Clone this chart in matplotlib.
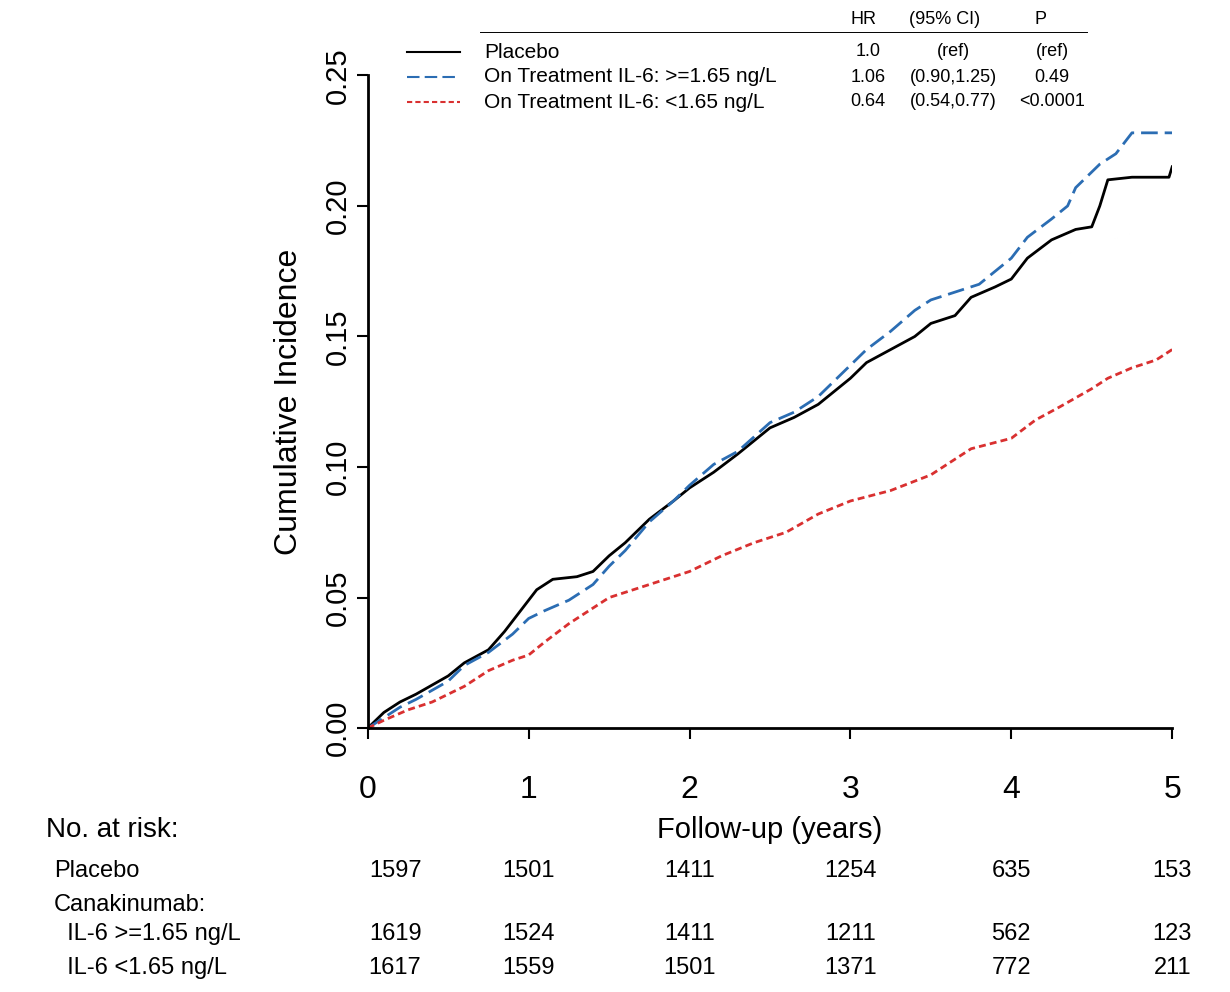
import matplotlib
matplotlib.use("Agg")
import matplotlib.pyplot as plt
import matplotlib.transforms as mtransforms

# Cumulative incidence curves
t_placebo = [0, 0.1, 0.2, 0.3, 0.5, 0.6, 0.75, 0.85, 0.95, 1.05, 1.15, 1.3, 1.4, 1.5, 1.6, 1.75, 1.9, 2.0, 2.15, 2.3, 2.5, 2.65, 2.8, 3.0, 3.1, 3.25, 3.4, 3.5, 3.65, 3.75, 3.9, 4.0, 4.1, 4.25, 4.4, 4.5, 4.55, 4.6, 4.75, 4.98, 5.0]
y_placebo = [0, 0.006, 0.010, 0.013, 0.020, 0.025, 0.030, 0.037, 0.045, 0.053, 0.057, 0.058, 0.060, 0.066, 0.071, 0.080, 0.087, 0.092, 0.098, 0.105, 0.115, 0.119, 0.124, 0.134, 0.140, 0.145, 0.150, 0.155, 0.158, 0.165, 0.169, 0.172, 0.180, 0.187, 0.191, 0.192, 0.200, 0.210, 0.211, 0.211, 0.215]
t_high = [0, 0.1, 0.2, 0.3, 0.5, 0.6, 0.75, 0.9, 1.0, 1.1, 1.25, 1.4, 1.5, 1.6, 1.75, 1.9, 2.0, 2.15, 2.3, 2.5, 2.65, 2.8, 3.0, 3.1, 3.25, 3.4, 3.5, 3.65, 3.8, 3.9, 4.0, 4.1, 4.25, 4.35, 4.4, 4.55, 4.65, 4.75, 5.0]
y_high = [0, 0.004, 0.008, 0.011, 0.018, 0.024, 0.029, 0.036, 0.042, 0.045, 0.049, 0.055, 0.062, 0.068, 0.079, 0.087, 0.093, 0.101, 0.106, 0.117, 0.121, 0.127, 0.139, 0.145, 0.152, 0.160, 0.164, 0.167, 0.170, 0.175, 0.180, 0.188, 0.195, 0.200, 0.207, 0.216, 0.220, 0.228, 0.228]
t_low = [0, 0.1, 0.25, 0.4, 0.6, 0.75, 0.9, 1.0, 1.1, 1.25, 1.4, 1.5, 1.75, 2.0, 2.2, 2.4, 2.6, 2.8, 3.0, 3.25, 3.5, 3.6, 3.75, 4.0, 4.15, 4.3, 4.5, 4.6, 4.75, 4.9, 5.0]
y_low = [0, 0.003, 0.007, 0.010, 0.016, 0.022, 0.026, 0.028, 0.033, 0.040, 0.046, 0.050, 0.055, 0.060, 0.066, 0.071, 0.075, 0.082, 0.087, 0.091, 0.097, 0.101, 0.107, 0.111, 0.118, 0.123, 0.130, 0.134, 0.138, 0.141, 0.145]

# Legend table
labels = ["Placebo", "On Treatment IL-6: >=1.65 ng/L", "On Treatment IL-6: <1.65 ng/L"]
hr = ["1.0", "1.06", "0.64"]
ci = ["(ref)", "(0.90,1.25)", "(0.54,0.77)"]
pval = ["(ref)", "0.49", "<0.0001"]

# Numbers at risk
risk_times = [0, 1, 2, 3, 4, 5]
risk_placebo = [1597, 1501, 1411, 1254, 635, 153]
risk_high = [1619, 1524, 1411, 1211, 562, 123]
risk_low = [1617, 1559, 1501, 1371, 772, 211]

plt.rcParams["font.family"] = ["Liberation Sans", "DejaVu Sans"]
fig = plt.figure(figsize=(12.3, 9.92), dpi=100)
ax = fig.add_axes([0.299, 0.266, 0.654, 0.658])

ax.plot(t_placebo, y_placebo, color="black", lw=2)
ax.plot(t_high, y_high, color="#2b6db3", lw=2, dashes=(6, 2.5))
ax.plot(t_low, y_low, color="#d93030", lw=2, dashes=(2.5, 1.5))

ax.set_xlim(0, 5)
ax.set_ylim(0, 0.25)
ax.set_xticks(risk_times)
ax.set_yticks([0, 0.05, 0.10, 0.15, 0.20, 0.25])
ax.set_yticklabels(["0.00", "0.05", "0.10", "0.15", "0.20", "0.25"], rotation=90, va="center")
ax.tick_params(labelsize=21, length=8, width=1.5)
ax.tick_params(axis="x", pad=26, labelsize=23)
for s in ["top", "right"]:
    ax.spines[s].set_visible(False)
for s in ["left", "bottom"]:
    ax.spines[s].set_linewidth(2)
ax.set_xlabel("Follow-up (years)", fontsize=21, labelpad=8)
ax.set_ylabel("Cumulative Incidence", fontsize=23, labelpad=14)

# legend block
fig.add_artist(plt.Line2D([480 / 1230, 1087 / 1230], [1 - 32 / 992] * 2, color="black", lw=0.7))
fig.text(863 / 1230, 1 - 20 / 992, "HR", fontsize=13, ha="center", va="center")
fig.text(945 / 1230, 1 - 20 / 992, "(95% CI)", fontsize=13, ha="center", va="center")
fig.text(1041 / 1230, 1 - 20 / 992, "P", fontsize=13, ha="center", va="center")
styles = [dict(color="black"), dict(color="#2b6db3", dashes=(6, 2.5)), dict(color="#d93030", dashes=(2.5, 1.5))]
for i in range(3):
    yy = 1 - (52 + i * 25) / 992
    fig.add_artist(plt.Line2D([407 / 1230, 460 / 1230], [yy, yy], lw=1.5, **styles[i]))
    fig.text(484 / 1230, yy, labels[i], fontsize=15, va="center")
    fig.text(868 / 1230, yy, hr[i], fontsize=13, ha="center", va="center")
    fig.text(953 / 1230, yy, ci[i], fontsize=13, ha="center", va="center")
    fig.text(1052 / 1230, yy, pval[i], fontsize=13, ha="center", va="center")

# number at risk table
trans = mtransforms.blended_transform_factory(ax.transData, fig.transFigure)
fig.text(46 / 1230, 1 - 830 / 992, "No. at risk:", fontsize=20, va="center")
rows = [("Placebo", risk_placebo, 871), ("Canakinumab:", None, 905),
        ("  IL-6 >=1.65 ng/L", risk_high, 934), ("  IL-6 <1.65 ng/L", risk_low, 968)]
for name, vals, py in rows:
    yy = 1 - py / 992
    fig.text(54 / 1230, yy, name, fontsize=17, va="center")
    if vals is not None:
        for tx, v in zip(risk_times, vals):
            xx = tx + (0.0 if tx == 5 else 0.17 if tx == 0 else 0)
            fig.text(xx, yy, str(v), fontsize=17, ha="center", va="center", transform=trans)

fig.savefig("out.png", dpi=100)
